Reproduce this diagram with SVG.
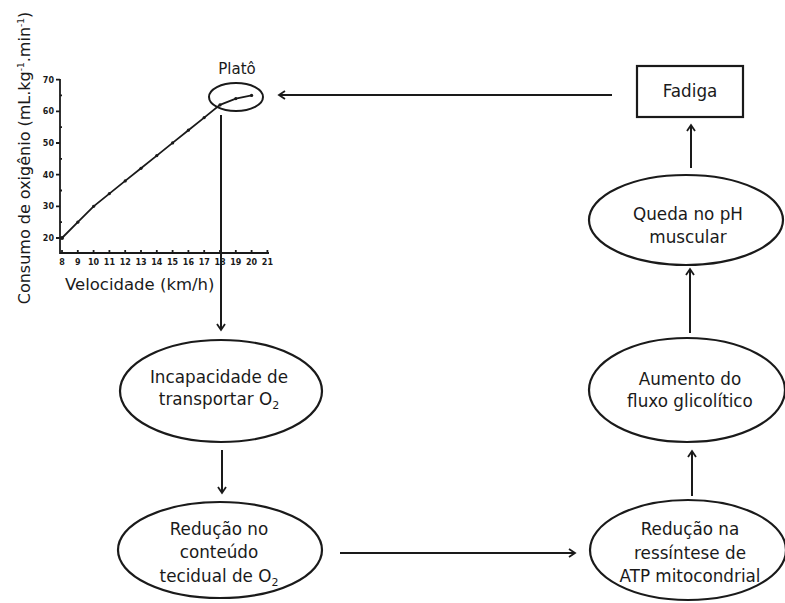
<svg xmlns="http://www.w3.org/2000/svg" width="785" height="603" viewBox="0 0 785 603">
<style>
text{font-family:"DejaVu Sans","Liberation Sans",sans-serif;fill:#1a1a1a}
.lbl{font-size:16.8px;text-anchor:middle}
.tk{font-size:8px;font-weight:bold}
.node{fill:#fff;stroke:#1a1a1a;stroke-width:2.2}
.conn{stroke:#1a1a1a;stroke-width:2;fill:none;marker-end:url(#arr)}
.ax{stroke:#1a1a1a;stroke-width:1.8;fill:none}
</style>
<defs>
<marker id="arr" markerUnits="userSpaceOnUse" markerWidth="12" markerHeight="12" refX="9" refY="5" orient="auto" viewBox="0 0 12 10">
<path d="M3,1 L9,5 L3,9" fill="none" stroke="#1a1a1a" stroke-width="1.8"/>
</marker>
</defs>
<rect width="785" height="603" fill="#fff"/>

<g id="chart">
<text transform="translate(30,158) rotate(-90)" style="font-size:16px;text-anchor:middle">Consumo de oxigênio (mL.kg<tspan dy="-6" font-size="9">-1</tspan><tspan dy="6">.min</tspan><tspan dy="-6" font-size="9">-1</tspan><tspan dy="6">)</tspan></text>
<path class="ax" d="M60,79 V253 H269"/>
<g class="ax" stroke-width="1.2">
<path d="M56,79.6H60M56,111.3H60M56,143H60M56,174.6H60M56,206.3H60M56,238H60"/>
<path d="M60,95.4h2M60,127.1h2M60,158.8h2M60,190.5h2M60,222.2h2"/>
<path d="M62,253v-3M77.8,253v-3M93.6,253v-3M109.4,253v-3M125.2,253v-3M141,253v-3M156.8,253v-3M172.6,253v-3M188.4,253v-3M204.2,253v-3M220,253v-3M235.8,253v-3M251.6,253v-3M267.4,253v-3"/>
</g>
<g class="tk" text-anchor="end">
<text x="54" y="82.6">70</text><text x="54" y="114.3">60</text><text x="54" y="146">50</text><text x="54" y="177.6">40</text><text x="54" y="209.3">30</text><text x="54" y="241">20</text>
</g>
<g class="tk" text-anchor="middle">
<text x="62" y="265">8</text><text x="77.8" y="265">9</text><text x="93.6" y="265">10</text><text x="109.4" y="265">11</text><text x="125.2" y="265">12</text><text x="141" y="265">13</text><text x="156.8" y="265">14</text><text x="172.6" y="265">15</text><text x="188.4" y="265">16</text><text x="204.2" y="265">17</text><text x="220" y="265">18</text><text x="235.8" y="265">19</text><text x="251.6" y="265">20</text><text x="267.4" y="265">21</text>
</g>
<polyline class="ax" stroke-width="1.6" points="62,238 77.8,222.2 93.6,206.3 109.4,193.6 125.2,180.9 141,168.3 156.8,155.6 172.6,142.9 188.4,130.2 204.2,117.6 220,104.9 235.8,98.6 251.6,95.4"/>
<g fill="#1a1a1a">
<circle cx="62" cy="238" r="2"/><circle cx="77.8" cy="222.2" r="1.6"/><circle cx="93.6" cy="206.3" r="1.6"/><circle cx="109.4" cy="193.6" r="1.6"/><circle cx="125.2" cy="180.9" r="1.6"/><circle cx="141" cy="168.3" r="1.6"/><circle cx="156.8" cy="155.6" r="1.6"/><circle cx="172.6" cy="142.9" r="1.6"/><circle cx="188.4" cy="130.2" r="1.6"/><circle cx="204.2" cy="117.6" r="1.6"/><circle cx="220" cy="104.9" r="1.6"/><circle cx="235.8" cy="98.6" r="1.6"/><circle cx="251.6" cy="95.4" r="1.6"/>
</g>
<text x="65" y="290" style="font-size:16.5px">Velocidade (km/h)</text>
</g>

<g id="plato">
<ellipse cx="236" cy="97" rx="27" ry="14" fill="none" stroke="#1a1a1a" stroke-width="2"/>
<text class="lbl" x="237" y="74" style="font-size:15px">Platô</text>
</g>

<g id="fadiga">
<rect class="node" x="637" y="66" width="106" height="51"/>
<text class="lbl" x="690" y="97">Fadiga</text>
</g>

<g id="queda">
<ellipse class="node" cx="686" cy="220" rx="97" ry="45"/>
<text class="lbl" x="688" y="220">Queda no pH</text>
<text class="lbl" x="688" y="243">muscular</text>
</g>

<g id="aumento">
<ellipse class="node" cx="687" cy="390" rx="98" ry="52"/>
<text class="lbl" x="690" y="385">Aumento do</text>
<text class="lbl" x="690" y="407">fluxo glicolítico</text>
</g>

<g id="reducao-na">
<ellipse class="node" cx="688" cy="550" rx="98" ry="50"/>
<text class="lbl" x="690" y="535">Redução na</text>
<text class="lbl" x="690" y="559">ressíntese de</text>
<text class="lbl" x="690" y="582">ATP mitocondrial</text>
</g>

<g id="incapacidade">
<ellipse class="node" cx="221" cy="391" rx="101" ry="51"/>
<text class="lbl" x="219" y="383">Incapacidade de</text>
<text class="lbl" x="219" y="405">transportar O<tspan dy="4" font-size="11">2</tspan></text>
</g>

<g id="reducao-no">
<ellipse class="node" cx="220" cy="550" rx="102" ry="48"/>
<text class="lbl" x="219" y="535">Redução no</text>
<text class="lbl" x="219" y="558">conteúdo</text>
<text class="lbl" x="219" y="582">tecidual de O<tspan dy="4" font-size="11">2</tspan></text>
</g>

<g id="connectors">
<path class="conn" d="M612,95 H279"/>
<path class="conn" d="M221,115 V330"/>
<path class="conn" d="M222,450 V493"/>
<path class="conn" d="M340,553 H575"/>
<path class="conn" d="M692,496 V451"/>
<path class="conn" d="M690,333 V269"/>
<path class="conn" d="M691,168 V125"/>
</g>
</svg>
